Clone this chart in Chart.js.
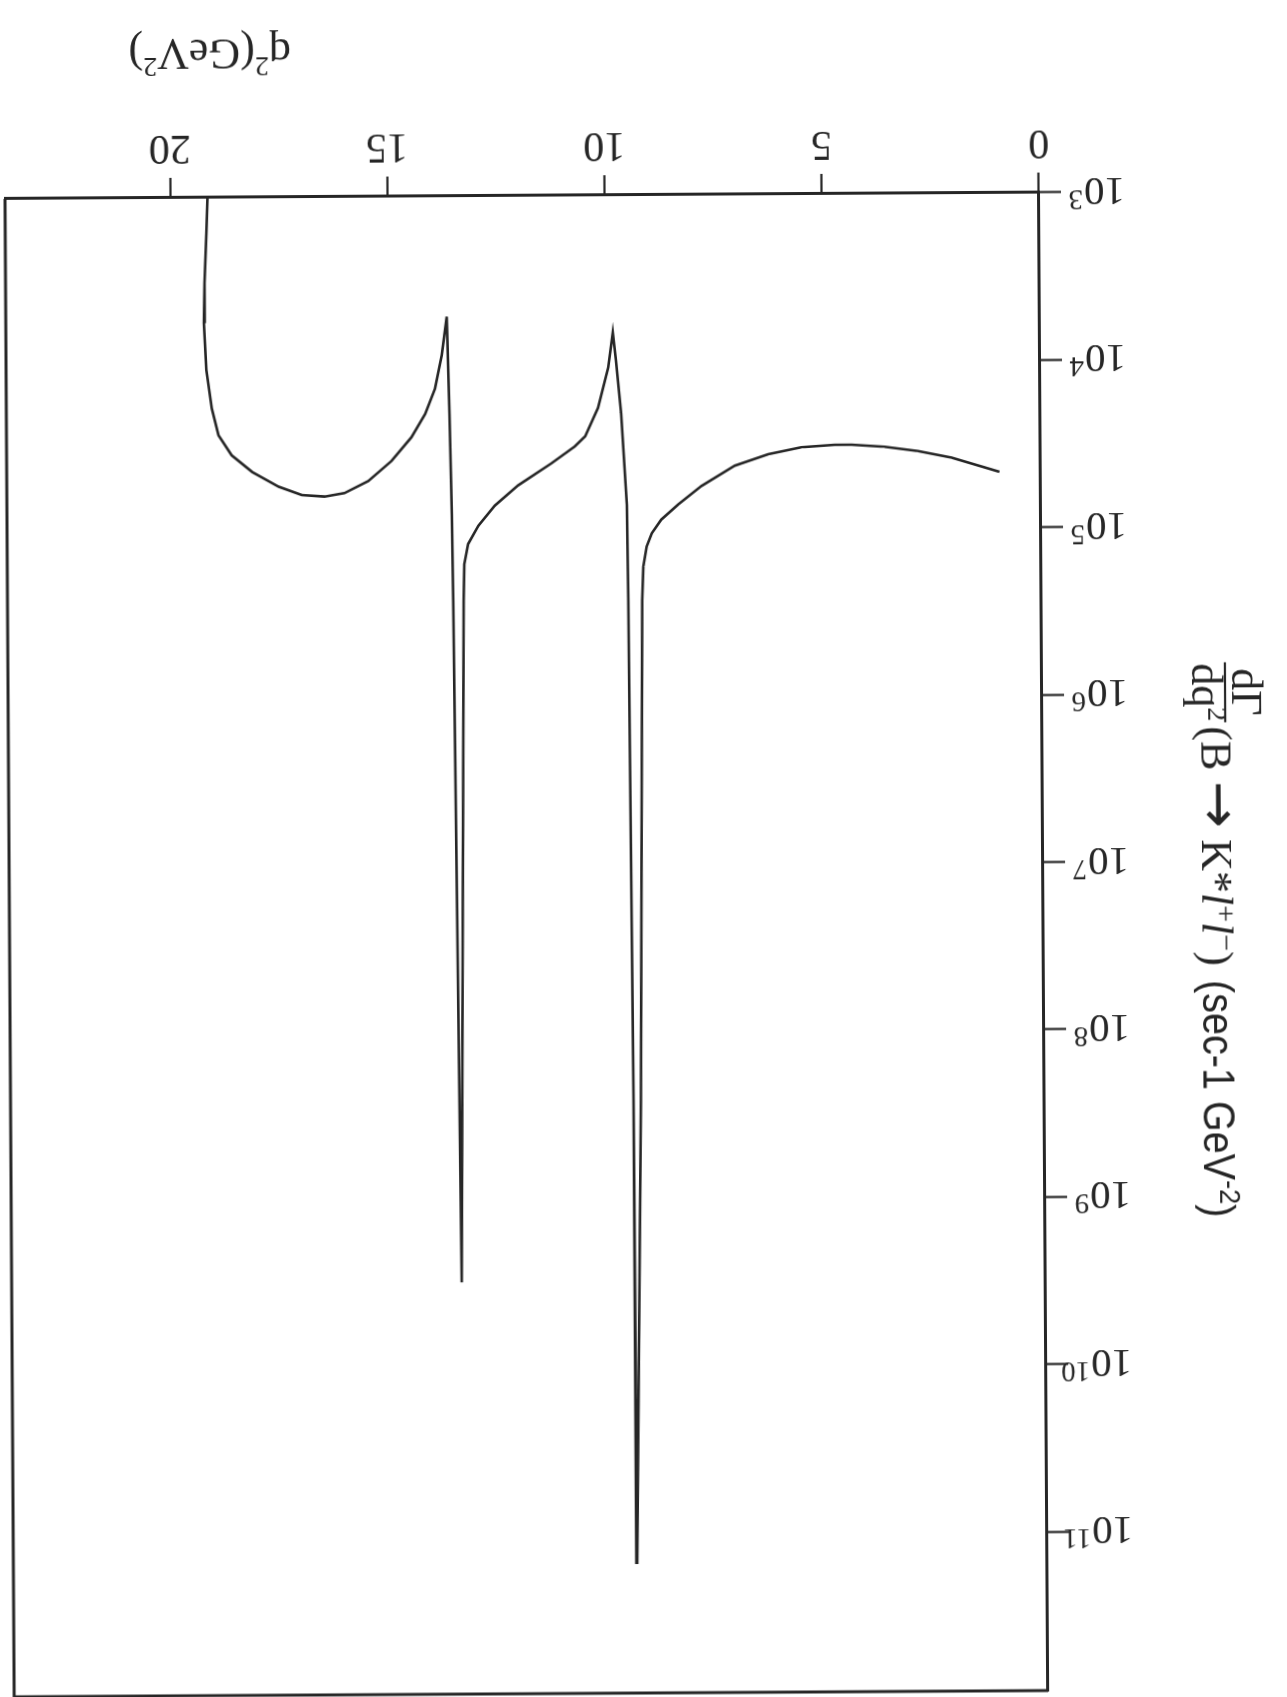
<!DOCTYPE html>
<html>
<head>
<meta charset="utf-8">
<title>dΓ/dq² (B → K*ℓ+ℓ−)</title>
<script src="https://cdn.jsdelivr.net/npm/chart.js@4.4.1/dist/chart.umd.min.js"></script>
<style>
  html, body { margin: 0; padding: 0; background: #fff; overflow: hidden; }
  /* the figure is laid out upright and then turned over, as it sits on the page */
  #sheet {
    position: absolute; left: 0; top: 0;
    width: 1287px; height: 1697px;
    transform: rotate(179.65deg);
    transform-origin: 50% 50%;
    background: #fff;
  }
  canvas { display: block; }
</style>
</head>
<body>
<div id="sheet"><canvas id="rate" width="1287" height="1697"></canvas></div>
<script>
// q^2 in GeV^2
const q2 = [0.95, 1.29, 2.05, 2.82, 3.59, 4.35, 4.74, 5.51, 6.27, 7.04,
            7.81, 8.35, 8.74, 8.96, 9.08, 9.16, 9.19, 9.29, 9.44, 9.46,
            9.51, 9.53, 9.65, 9.76, 9.83, 9.94, 10.18, 10.48, 10.72, 11.26,
            12.03, 12.57, 12.95, 13.19, 13.28, 13.30, 13.44, 13.54, 13.56, 13.60,
            13.65, 13.77, 13.93, 14.16, 14.48, 14.94, 15.48, 16.03, 16.49, 17.01,
            17.54, 18.15, 18.62, 18.92, 19.07, 19.19, 19.24, 19.22, 19.17, 19.14];

// differential rate dΓ/dq² in sec^-1 GeV^-2
const rate = [4.65e4, 4.37e4, 3.80e4, 3.47e4, 3.26e4, 3.16e4, 3.16e4, 3.26e4, 3.57e4, 4.17e4,
              5.50e4, 7.08e4, 8.71e4, 1.05e5, 1.26e5, 1.66e5, 2.63e5, 2.57e8, 1.51e11, 2.57e8,
              2.63e5, 7.08e4, 2.00e4, 9.77e3, 6.61e3, 1.07e4, 1.86e4, 2.75e4, 3.16e4, 3.98e4,
              5.37e4, 7.08e4, 9.33e4, 1.20e5, 1.58e5, 2.63e5, 3.09e9, 2.63e5, 7.94e4, 2.00e4,
              5.25e3, 8.91e3, 1.41e4, 2.00e4, 2.75e4, 3.80e4, 5.01e4, 5.89e4, 6.17e4, 6.03e4,
              5.37e4, 4.37e4, 3.47e4, 2.63e4, 1.82e4, 1.07e4, 5.62e3, 3.24e3, 1.62e3, 1.00e3];

const xTicks = [0, 5, 10, 15, 20];
const yTickValues = [1e3, 1e4, 1e5, 1e6, 1e7, 1e8, 1e9, 1e10, 1e11];
const yTickExponents = ['3', '4', '5', '6', '7', '8', '9', '10', '11'];

const ink = '#262626';
const serif = '"Liberation Serif", "DejaVu Serif", serif';
const sans = '"Liberation Sans", "DejaVu Sans", sans-serif';
const symbol = '"DejaVu Sans", sans-serif';

// writes a run of differently styled pieces along one baseline, returns end x
function run(ctx, parts, x, y) {
  parts.forEach(p => {
    ctx.font = p.font;
    ctx.fillText(p.t, x, y + (p.dy || 0));
    x += ctx.measureText(p.t).width + (p.gap || 0);
  });
  return x;
}
function runWidth(ctx, parts) {
  let w = 0;
  parts.forEach(p => { ctx.font = p.font; w += ctx.measureText(p.t).width + (p.gap || 0); });
  return w;
}

// closes the box on the two sides that have no axis
const framePlugin = {
  id: 'frame',
  afterDatasetsDraw(chart) {
    const { ctx, chartArea: a } = chart;
    ctx.save();
    ctx.strokeStyle = ink;
    ctx.lineWidth = 3;
    ctx.beginPath();
    ctx.moveTo(a.left, a.top);
    ctx.lineTo(a.right, a.top);
    ctx.lineTo(a.right, a.bottom);
    ctx.stroke();
    ctx.restore();
  }
};

// power-of-ten tick labels and the two axis titles
const textPlugin = {
  id: 'axisText',
  afterDraw(chart) {
    const ctx = chart.ctx;
    const y = chart.scales.y;
    const x = chart.scales.x;
    ctx.save();
    ctx.fillStyle = ink;
    ctx.textAlign = 'left';
    ctx.textBaseline = 'alphabetic';

    // 10^n labels, left aligned
    const labelLeft = 158;
    yTickValues.forEach((v, i) => {
      const py = y.getPixelForValue(v);
      run(ctx, [
        { t: '10', font: `41px ${serif}`, gap: 1 },
        { t: yTickExponents[i], font: `29px ${serif}`, dy: -12 }
      ], labelLeft, py + 14);
    });

    // horizontal axis title
    const xTitle = [
      { t: 'q', font: `44px ${serif}` },
      { t: '2', font: `28px ${serif}`, dy: -18 },
      { t: '(GeV', font: `44px ${serif}` },
      { t: '2', font: `28px ${serif}`, dy: -18 },
      { t: ')', font: `44px ${serif}` }
    ];
    run(ctx, xTitle, x.getPixelForValue(17.2), 1660);

    // vertical axis title, reading upward
    ctx.save();
    ctx.translate(85, y.getPixelForValue(6.5e5));
    ctx.rotate(-Math.PI / 2);
    const num = [{ t: 'd\u0393', font: `44px ${serif}` }];
    const den = [{ t: 'dq', font: `44px ${serif}` }, { t: '2', font: `28px ${serif}`, dy: -16 }];
    const wNum = runWidth(ctx, num), wDen = runWidth(ctx, den);
    const wBar = Math.max(wNum, wDen) + 2;
    run(ctx, num, (wBar - wNum) / 2, -31);
    run(ctx, den, (wBar - wDen) / 2, 9);
    ctx.lineWidth = 2.2;
    ctx.strokeStyle = ink;
    ctx.beginPath();
    ctx.moveTo(0, -24);
    ctx.lineTo(wBar, -24);
    ctx.stroke();

    let px = wBar + 4;
    px = run(ctx, [
      { t: '(B ', font: `44px ${serif}` },
      { t: '\u2192', font: `56px ${symbol}`, dy: 1 },
      { t: ' K*', font: `44px ${serif}` },
      { t: 'l', font: `italic 44px ${serif}` },
      { t: '+', font: `30px ${serif}`, dy: -14 },
      { t: 'l', font: `italic 44px ${serif}` },
      { t: '\u2212', font: `30px ${serif}`, dy: -14 },
      { t: ')', font: `44px ${serif}`, gap: 14 }
    ], px, 0);

    ctx.save();
    ctx.translate(px, 0);
    ctx.scale(0.9, 1);
    run(ctx, [
      { t: '(sec-1 GeV', font: `44px ${sans}` },
      { t: '-2', font: `30px ${sans}`, dy: -16 },
      { t: ')', font: `44px ${sans}` }
    ], 0, 0);
    ctx.restore();
    ctx.restore();

    ctx.restore();
  }
};

new Chart(document.getElementById('rate'), {
  type: 'line',
  data: {
    datasets: [{
      data: q2.map((v, i) => ({ x: v, y: rate[i] })),
      borderColor: ink,
      borderWidth: 2.6,
      pointRadius: 0,
      tension: 0,
      fill: false
    }]
  },
  options: {
    responsive: false,
    animation: false,
    events: [],
    layout: { padding: { left: 158, top: 4, right: 9, bottom: 0 } },
    plugins: { legend: { display: false }, tooltip: { enabled: false } },
    scales: {
      x: {
        type: 'linear',
        min: 0,
        max: 23.8,
        afterBuildTicks: s => { s.ticks = xTicks.map(v => ({ value: v })); },
        afterFit: s => { s.height = 195; },
        grid: { drawOnChartArea: false, drawTicks: true, tickLength: 20, tickWidth: 2.2, tickColor: ink },
        border: { display: true, width: 3, color: ink },
        ticks: { color: ink, font: { family: serif, size: 42 }, padding: 6, maxRotation: 0 }
      },
      y: {
        type: 'logarithmic',
        min: 1e3,
        max: 8.9e11,
        afterBuildTicks: s => { s.ticks = yTickValues.map(v => ({ value: v })); },
        afterFit: s => { s.width = 86; },
        grid: { drawOnChartArea: false, drawTicks: true, tickLength: 22, tickWidth: 2.2, tickColor: ink },
        border: { display: true, width: 3, color: ink },
        ticks: { display: false }
      }
    }
  },
  plugins: [framePlugin, textPlugin]
});
</script>
</body>
</html>
